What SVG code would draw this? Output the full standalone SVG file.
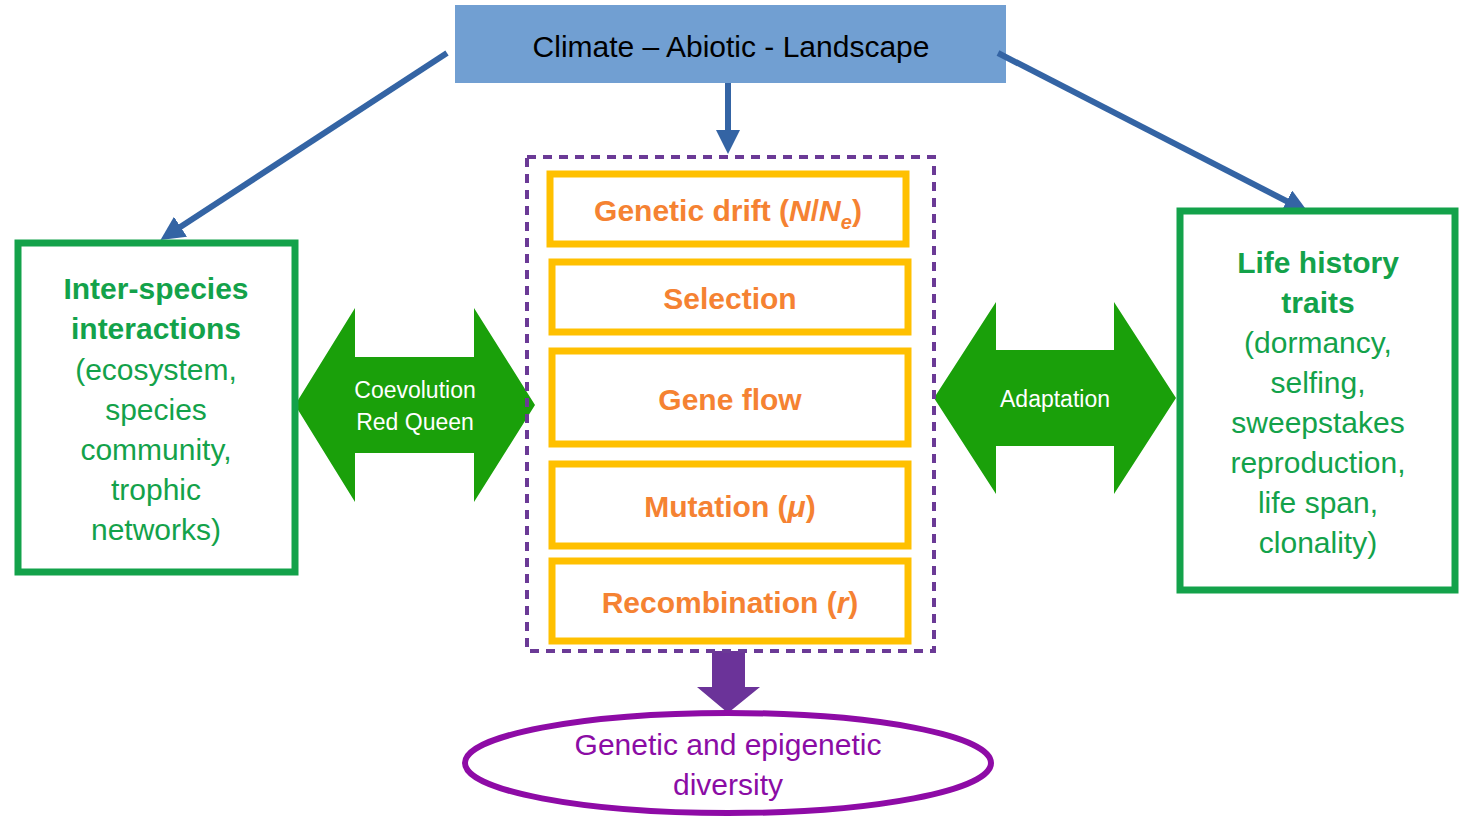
<svg xmlns="http://www.w3.org/2000/svg" width="1471" height="828" viewBox="0 0 1471 828">
<style>
text{font-family:"Liberation Sans",Arial,sans-serif;text-anchor:middle}
.g{fill:#13a24a;font-size:30px}
.gb{font-weight:bold}
.ob{fill:none;stroke:#ffc000;stroke-width:7}
.ot{fill:#f58232;font-size:30px;font-weight:bold}
.gr{fill:none;stroke:#13a24a;stroke-width:7}
.bl{stroke:#3464a4;stroke-width:6;fill:none}
</style>
<defs>
<marker id="ah" markerWidth="4" markerHeight="4" refX="2.5" refY="2" orient="auto"><path d="M0,0L4,2L0,4Z" fill="#3464a4"/></marker>
</defs>
<rect width="1471" height="828" fill="#fff"/>
<g id="climate"><rect x="455" y="5" width="551" height="78" fill="#719fd2"/><text x="731" y="57" font-size="30" fill="#000">Climate – Abiotic - Landscape</text></g>
<g id="connectors">
<line class="bl" x1="447" y1="53" x2="168" y2="235" marker-end="url(#ah)"/>
<line class="bl" x1="728" y1="83" x2="728" y2="145" marker-end="url(#ah)"/>
<line class="bl" x1="998" y1="53" x2="1300" y2="208" marker-end="url(#ah)"/>
<path d="M295,405L355,308V357H474V308L535,405L474,502V453H355V502Z" fill="#1aa00a"/>
<path d="M934,398L996,302V350H1114V302L1176,398L1114,494V446H996V494Z" fill="#1aa00a"/>
<path d="M712,651H745V687H760L728,713L697,687H712Z" fill="#6b3399"/>
<text x="415" y="398" font-size="23" fill="#fff">Coevolution</text>
<text x="415" y="430" font-size="23" fill="#fff">Red Queen</text>
<text x="1055" y="407" font-size="23" fill="#fff">Adaptation</text>
</g>
<g id="inter"><rect class="gr" x="18" y="243" width="277" height="329"/>
<text class="g gb" x="156" y="299">Inter-species</text><text class="g gb" x="156" y="339">interactions</text>
<text class="g" x="156" y="380">(ecosystem,</text><text class="g" x="156" y="420">species</text><text class="g" x="156" y="460">community,</text><text class="g" x="156" y="500">trophic</text><text class="g" x="156" y="540">networks)</text></g>
<g id="life"><rect class="gr" x="1180" y="211" width="275" height="379"/>
<text class="g gb" x="1318" y="273">Life history</text><text class="g gb" x="1318" y="313">traits</text>
<text class="g" x="1318" y="353">(dormancy,</text><text class="g" x="1318" y="393">selfing,</text><text class="g" x="1318" y="433">sweepstakes</text><text class="g" x="1318" y="473">reproduction,</text><text class="g" x="1318" y="513">life span,</text><text class="g" x="1318" y="553">clonality)</text></g>
<g id="forces"><rect x="527" y="157" width="407" height="494" fill="none" stroke="#6b3a96" stroke-width="4" stroke-dasharray="9,7"/></g>
<g id="drift"><rect class="ob" x="550" y="174" width="356" height="70"/><text class="ot" x="728" y="221">Genetic drift (<tspan font-style="italic">N</tspan>/<tspan font-style="italic">N<tspan font-size="20" dy="8">e</tspan></tspan><tspan dy="-8">)</tspan></text></g>
<g id="selection"><rect class="ob" x="552" y="262" width="356" height="70"/><text class="ot" x="730" y="309">Selection</text></g>
<g id="geneflow"><rect class="ob" x="552" y="351" width="356" height="93"/><text class="ot" x="730" y="410">Gene flow</text></g>
<g id="mutation"><rect class="ob" x="552" y="464" width="356" height="82"/><text class="ot" x="730" y="517">Mutation (<tspan font-style="italic">μ</tspan>)</text></g>
<g id="recomb"><rect class="ob" x="552" y="561" width="356" height="80"/><text class="ot" x="730" y="613">Recombination (<tspan font-style="italic">r</tspan>)</text></g>
<g id="diversity"><ellipse cx="728" cy="763" rx="263" ry="50" fill="#fff" stroke="#8e0ba6" stroke-width="6"/>
<text x="728" y="755" font-size="30" fill="#8b0ca5">Genetic and epigenetic</text><text x="728" y="795" font-size="30" fill="#8b0ca5">diversity</text></g>
</svg>
